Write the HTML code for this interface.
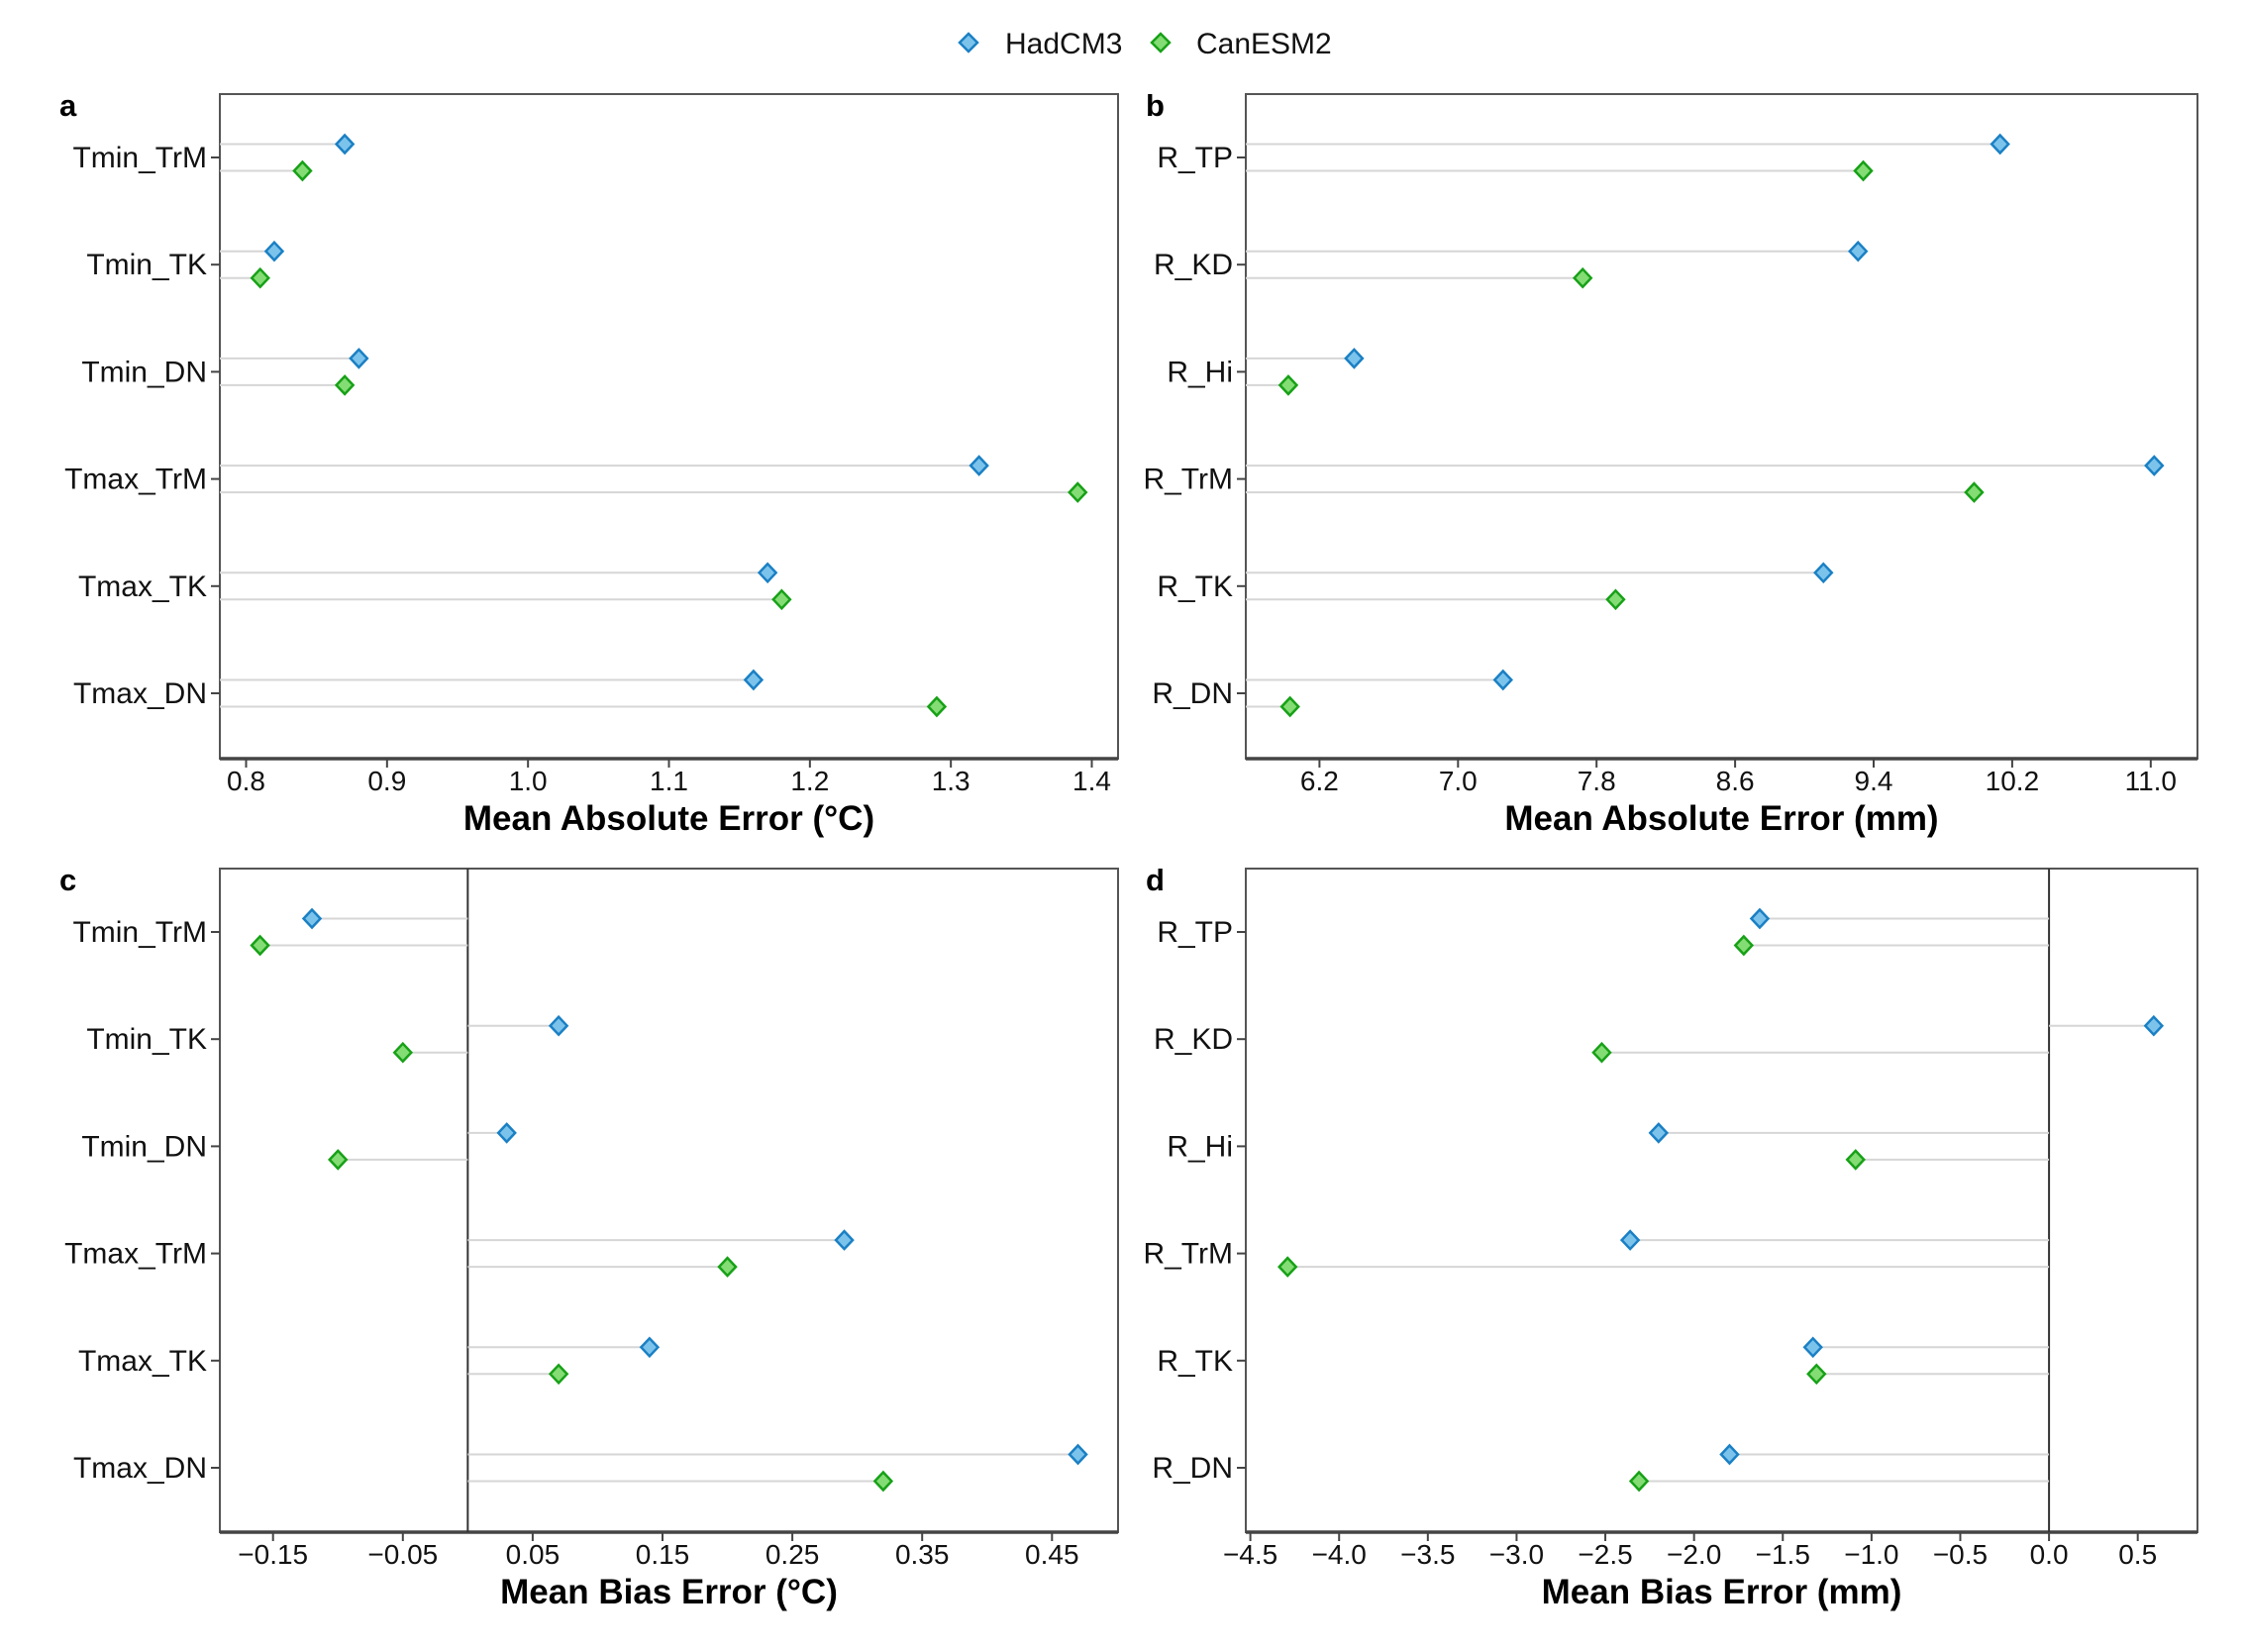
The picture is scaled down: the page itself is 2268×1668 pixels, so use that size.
<!DOCTYPE html>
<html><head><meta charset="utf-8">
<style>
html,body{margin:0;padding:0;background:#fff;}
svg{display:block;font-family:"Liberation Sans",Arial,sans-serif;}
</style></head>
<body>
<svg id="chart" width="2268" height="1668" viewBox="0 0 2268 1668" xmlns="http://www.w3.org/2000/svg">
  <g>
    <path d="M978 34 L987 43 L978 52 L969 43 Z" fill="#7cc3ec" stroke="#1a80c4" stroke-width="2.5"/>
    <text x="1015" y="54" font-size="30" fill="#111">HadCM3</text>
    <path d="M1172 34 L1181 43 L1172 52 L1163 43 Z" fill="#84dc74" stroke="#17a117" stroke-width="2.5"/>
    <text x="1208" y="54" font-size="30" fill="#111">CanESM2</text>
  </g>
</svg>
<script>
const rowsT = ["Tmin_TrM","Tmin_TK","Tmin_DN","Tmax_TrM","Tmax_TK","Tmax_DN"];
const rowsR = ["R_TP","R_KD","R_Hi","R_TrM","R_TK","R_DN"];
const aHad = [0.87,0.82,0.88,1.32,1.17,1.16];
const aCan = [0.84,0.81,0.87,1.39,1.18,1.29];
const aTicks = ["0.8","0.9","1.0","1.1","1.2","1.3","1.4"];
const bHad = [10.13,9.31,6.40,11.02,9.11,7.26];
const bCan = [9.34,7.72,6.02,9.98,7.91,6.03];
const bTicks = ["6.2","7.0","7.8","8.6","9.4","10.2","11.0"];
const cHad = [-0.12,0.07,0.03,0.29,0.14,0.47];
const cCan = [-0.16,-0.05,-0.10,0.20,0.07,0.32];
const cTicks = ["-0.15","-0.05","0.05","0.15","0.25","0.35","0.45"];
const dHad = [-1.63,0.59,-2.20,-2.36,-1.33,-1.80];
const dCan = [-1.72,-2.52,-1.09,-4.29,-1.31,-2.31];
const dTicks = ["-4.5","-4.0","-3.5","-3.0","-2.5","-2.0","-1.5","-1.0","-0.5","0.0","0.5"];

const NS="http://www.w3.org/2000/svg";
const svg=document.getElementById('chart');
function mk(tag,attrs,parent){const e=document.createElementNS(NS,tag);for(const k in attrs)e.setAttribute(k,attrs[k]);(parent||svg).appendChild(e);return e;}

const panels=[
 {id:"a",lx:60,rows:rowsT,had:aHad,can:aCan,ticks:aTicks,x0:222,x1:1129,y0:95,y1:766,v0:0.8,p0:248.5,v1:1.4,p1:1102.5,base:null,title:"Mean Absolute Error (°C)"},
 {id:"b",lx:1157,rows:rowsR,had:bHad,can:bCan,ticks:bTicks,x0:1258,x1:2219,y0:95,y1:766,v0:6.2,p0:1332.4,v1:11.0,p1:2171.8,base:null,title:"Mean Absolute Error (mm)"},
 {id:"c",lx:60,rows:rowsT,had:cHad,can:cCan,ticks:cTicks,x0:222,x1:1129,y0:877,y1:1547,v0:-0.15,p0:275.7,v1:0.45,p1:1062.3,base:0,title:"Mean Bias Error (°C)"},
 {id:"d",lx:1157,rows:rowsR,had:dHad,can:dCan,ticks:dTicks,x0:1258,x1:2219,y0:877,y1:1547,v0:-4.5,p0:1262.6,v1:0.5,p1:2158.7,base:0,title:"Mean Bias Error (mm)"}
];

panels.forEach(P=>{
  const g=mk('g',{});
  
  
  const xs=v=>P.p0+(v-P.v0)*(P.p1-P.p0)/(P.v1-P.v0);
  const rowY=i=>P.y0+64+i*108.2;
  const lt=mk('text',{x:P.lx,y:P.y0+22,'font-size':31,'font-weight':'bold',fill:'#000'},g);
  lt.textContent=P.id;
  
  
  const frame=mk('rect',{x:P.x0,y:P.y0,width:P.x1-P.x0,height:P.y1-P.y0,fill:'none',stroke:'#555','stroke-width':2},g);
  
  
  const ax=mk('line',{x1:P.x0,x2:P.x1,y1:P.y1,y2:P.y1,stroke:'#444','stroke-width':3.5},g);
  
  
  const bx = P.base===null ? P.x0 : xs(P.base);
  if(P.base!==null){
    const zl=mk('line',{x1:bx,x2:bx,y1:P.y0,y2:P.y1,stroke:'#333','stroke-width':2},g);
    
    
  }
  P.ticks.forEach(t=>{
    const v=parseFloat(t), x=xs(v);
    const tk=mk('line',{x1:x,x2:x,y1:P.y1,y2:P.y1+9,stroke:'#444','stroke-width':2},g);
    
    
    const tl=mk('text',{x:x,y:P.y1+32,'font-size':28,'text-anchor':'middle',fill:'#111'},g);
    tl.textContent=t.replace('-','\u2212');
    
    
  });
  const ti=mk('text',{x:(P.x0+P.x1)/2,y:P.y1+72,'font-size':35,'font-weight':'bold','text-anchor':'middle',fill:'#000'},g);
  ti.textContent=P.title;
  
  
  P.rows.forEach((r,i)=>{
    const y=rowY(i);
    const tk=mk('line',{x1:P.x0-9,x2:P.x0,y1:y,y2:y,stroke:'#444','stroke-width':2},g);
    
    
    const tl=mk('text',{x:P.x0-13,y:y+10,'font-size':30,'text-anchor':'end',fill:'#111'},g);
    tl.textContent=r;
    
    
    [[P.had[i],-13.5,'#7cc3ec','#1a80c4','hadcm3'],[P.can[i],13.5,'#84dc74','#17a117','canesm2']].forEach(s=>{
      const x=xs(s[0]), yy=y+s[1];
      const ln=mk('line',{x1:bx,x2:x,y1:yy,y2:yy,stroke:'#d6d6d6','stroke-width':2},g);
      
      
      const d=mk('path',{d:`M${x} ${yy-9} L${x+8.5} ${yy} L${x} ${yy+9} L${x-8.5} ${yy} Z`,fill:s[2],stroke:s[3],'stroke-width':2.5},g);
      
      
    });
  });
});
</script>
</body></html>
